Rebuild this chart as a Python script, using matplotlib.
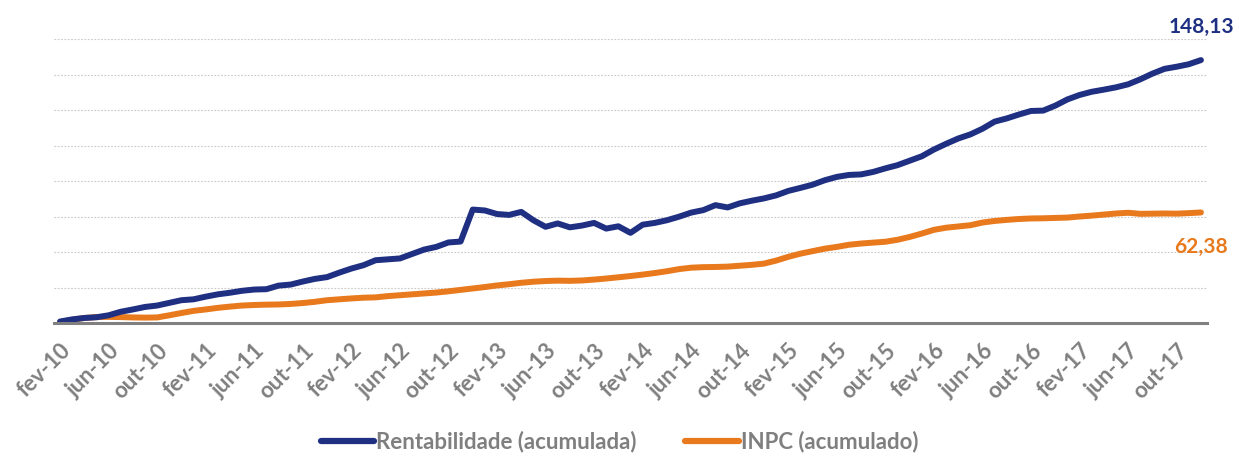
import numpy as np
import matplotlib
matplotlib.use("Agg")
import matplotlib.pyplot as plt

# dados mensais fev-10 .. dez-17 (acumulado, %)
rentabilidade = [
    1.0, 2.2, 3.0, 3.4, 4.5, 6.5, 7.8, 9.2, 10.0, 11.5, 13.0, 13.5,
    15.0, 16.3, 17.2, 18.3, 19.0, 19.2, 21.2, 21.8, 23.5, 25.0, 26.0, 28.5,
    30.8, 32.7, 35.5, 36.0, 36.5, 39.0, 41.5, 43.0, 45.5, 46.0, 64.0, 63.5,
    61.5, 61.0, 62.7, 58.0, 54.3, 56.2, 54.0, 55.0, 56.5, 53.3, 54.6, 50.9,
    55.5, 56.5, 58.0, 60.0, 62.3, 63.7, 66.5, 65.2, 67.5, 69.0, 70.3, 72.0,
    74.5, 76.2, 78.0, 80.5, 82.4, 83.5, 83.8, 85.2, 87.2, 89.0, 91.5, 94.0,
    97.8, 101.0, 104.0, 106.3, 109.5, 113.5, 115.3, 117.5, 119.5, 119.7, 122.5, 126.0,
    128.5, 130.3, 131.5, 132.8, 134.5, 137.3, 140.5, 143.2, 144.4, 145.8, 148.13,
]
inpc = [
    0.7, 2.0, 3.0, 3.5, 3.6, 3.5, 3.3, 3.2, 3.3, 4.5, 5.8, 7.0,
    7.8, 8.7, 9.4, 10.0, 10.3, 10.5, 10.6, 10.9, 11.4, 12.1, 13.0, 13.5,
    14.0, 14.4, 14.6, 15.3, 15.8, 16.3, 16.8, 17.3, 18.0, 18.8, 19.6, 20.4,
    21.3, 22.0, 22.8, 23.4, 23.8, 24.0, 23.9, 24.1, 24.6, 25.2, 25.9, 26.6,
    27.4, 28.3, 29.3, 30.5, 31.3, 31.6, 31.7, 31.9, 32.4, 32.9, 33.6, 35.3,
    37.4, 39.2, 40.6, 42.0, 43.0, 44.2, 44.9, 45.4, 45.9, 47.0, 48.6, 50.5,
    52.6, 53.8, 54.5, 55.2, 56.7, 57.6, 58.2, 58.7, 59.0, 59.1, 59.3, 59.5,
    60.1, 60.6, 61.2, 61.8, 62.2, 61.6, 61.7, 61.8, 61.7, 62.0, 62.38,
]
tick_labels = [
    "fev-10", "jun-10", "out-10", "fev-11", "jun-11", "out-11",
    "fev-12", "jun-12", "out-12", "fev-13", "jun-13", "out-13",
    "fev-14", "jun-14", "out-14", "fev-15", "jun-15", "out-15",
    "fev-16", "jun-16", "out-16", "fev-17", "jun-17", "out-17",
]
final_labels = ["148,13", "62,38"]

navy = "#1f3082"
orange = "#e8791c"
gray = "#7f7f7f"
plt.rcParams["font.family"] = ["Lato", "DejaVu Sans"]

fig = plt.figure(figsize=(12.39, 4.58), dpi=100)
ax = fig.add_axes([54 / 1239, (458 - 323.3) / 458, (1207 - 54) / 1239, (323.3 - 39) / 458])

x = np.arange(len(rentabilidade))
ax.plot(x, rentabilidade, color=navy, lw=4.3, solid_capstyle="round",
        solid_joinstyle="round", label="Rentabilidade (acumulada)", zorder=4)
ax.plot(x, inpc, color=orange, lw=4.3, solid_capstyle="round",
        solid_joinstyle="round", label="INPC (acumulado)", zorder=3)

ax.set_xlim(-0.5, len(x) - 0.5)
ax.set_ylim(0, 160)
ax.set_yticks(np.arange(20, 161, 20))
ax.yaxis.grid(True, color="#c8c8c8", ls=(0, (1.5, 1.5)), lw=0.8)
ax.set_axisbelow(True)
ax.tick_params(axis="y", length=0, labelleft=False)
for s in ["top", "right", "left"]:
    ax.spines[s].set_visible(False)
ax.spines["bottom"].set_color("#808080")
ax.spines["bottom"].set_linewidth(2.2)
ax.spines["bottom"].set_zorder(5)

ax.set_xticks(np.arange(0, len(x), 4))
ax.set_xticklabels(tick_labels, rotation=45, ha="right", rotation_mode="anchor",
                   fontsize=16, fontweight="bold", color=gray)
ax.tick_params(axis="x", length=0, pad=12)

ax.annotate(final_labels[0], xy=(x[-1], rentabilidade[-1]), xytext=(0, 24),
            textcoords="offset points", ha="center", va="center",
            fontsize=15, fontweight="bold", color=navy, annotation_clip=False)
ax.annotate(final_labels[1], xy=(x[-1], inpc[-1]), xytext=(0, -24.5),
            textcoords="offset points", ha="center", va="center",
            fontsize=15, fontweight="bold", color=orange, annotation_clip=False)

leg = fig.legend(loc="center", bbox_to_anchor=(0.5, 16 / 458), ncol=2, frameon=False,
                 prop={"size": 16, "weight": "bold"}, handlelength=2.4,
                 handletextpad=0.1, columnspacing=2.2)
for t in leg.get_texts():
    t.set_color(gray)
for h in leg.get_lines():
    h.set_linewidth(4.5)

fig.savefig("out.png", dpi=100)
